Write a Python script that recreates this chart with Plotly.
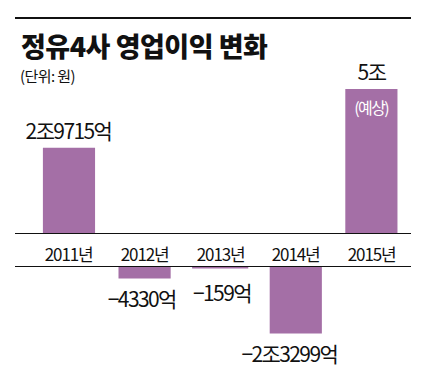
import plotly.graph_objects as go

years = ["2011년", "2012년", "2013년", "2014년", "2015년"]
profit_jo = [2.9715, -0.4330, -0.0159, -2.3299, 5.0]   # 단위: 조원
value_labels = ["2조9715억", "−4330억", "−159억", "−2조3299억", "5조"]
estimate_note = "(예상)"

title_text = "정유4사 영업이익 변화"
unit_text = "(단위: 원)"

W, H = 433, 389
PX_PER_UNIT = 29.0
BAR_COLOR = "#a46fa6"
CJK = "Noto Sans CJK KR, sans-serif"


def fy(px):
    return 1 - px / H


idx = list(range(len(years)))
pos_vals = [v if v > 0 else None for v in profit_jo]
neg_vals = [v if v < 0 else None for v in profit_jo]

fig = go.Figure()
fig.add_trace(go.Bar(x=idx, y=pos_vals, xaxis="x", yaxis="y",
                     marker=dict(color=BAR_COLOR, line=dict(width=0)),
                     width=0.69, hoverinfo="skip"))
fig.add_trace(go.Bar(x=idx, y=neg_vals, xaxis="x2", yaxis="y2",
                     marker=dict(color=BAR_COLOR,
                                 line=dict(color=BAR_COLOR,
                                           width=[0, 0, 4, 0, 0])),
                     width=0.69, hoverinfo="skip", cliponaxis=True))

top_base, top_end = 234, 80
bot_base, bot_end = 266, 389
xr = [-0.714, 4.524]
xdom = [15 / W, 411 / W]

axis_common = dict(showgrid=False, zeroline=False, showticklabels=False,
                   showline=False, ticks="", fixedrange=True)
fig.update_layout(
    width=W, height=H,
    margin=dict(l=0, r=0, t=0, b=0),
    paper_bgcolor="white", plot_bgcolor="white",
    showlegend=False, barmode="overlay",
    xaxis=dict(domain=xdom, range=xr, anchor="y", **axis_common),
    xaxis2=dict(domain=xdom, range=xr, anchor="y2", **axis_common),
    yaxis=dict(domain=[fy(top_base), fy(top_end)],
               range=[0, (top_base - top_end) / PX_PER_UNIT], **axis_common),
    yaxis2=dict(domain=[fy(bot_end), fy(bot_base)],
                range=[-(bot_end - bot_base) / PX_PER_UNIT, 0], **axis_common),
)

shapes = [
    dict(type="line", xref="paper", yref="paper", x0=15 / W, x1=411 / W,
         y0=fy(18), y1=fy(18), line=dict(color="#111111", width=2)),
    dict(type="line", xref="x domain", yref="y", x0=0, x1=1, y0=0, y1=0,
         line=dict(color="#111111", width=2)),
    dict(type="line", xref="x2 domain", yref="y2", x0=0, x1=1, y0=0, y1=0,
         line=dict(color="#111111", width=2)),
]
fig.update_layout(shapes=shapes)

ann = []
ann.append(dict(text=title_text, x=16 / W, y=fy(45),
                xref="paper", yref="paper", xanchor="left", yanchor="middle",
                showarrow=False,
                font=dict(family=CJK, size=27, color="#111111", weight=900)))
ann.append(dict(text=unit_text, x=16 / W, y=fy(75),
                xref="paper", yref="paper", xanchor="left", yanchor="middle",
                showarrow=False, font=dict(family=CJK, size=15, color="#111111")))

for i, y in enumerate(years):
    ann.append(dict(text=y, x=i, y=fy(253), xref="x", yref="paper",
                    xanchor="center", yanchor="middle", showarrow=False,
                    font=dict(family=CJK, size=17, color="#111111")))

neg_shift = {1: (-3, -19), 2: (2, -26), 3: (-6, -19)}
for i, v in enumerate(profit_jo):
    if v > 0:
        ann.append(dict(text=value_labels[i], x=i, y=v, xref="x", yref="y",
                        xanchor="center", yanchor="middle", yshift=18,
                        showarrow=False,
                        font=dict(family=CJK, size=21, color="#111111")))
    else:
        xs, ys = neg_shift[i]
        ann.append(dict(text=value_labels[i], x=i, y=v, xref="x2", yref="y2",
                        xanchor="center", yanchor="middle", yshift=ys, xshift=xs,
                        showarrow=False,
                        font=dict(family=CJK, size=21, color="#111111")))

ann.append(dict(text=estimate_note, x=4, y=profit_jo[4], xref="x", yref="y",
                xanchor="center", yanchor="middle", yshift=-18, showarrow=False,
                font=dict(family=CJK, size=16, color="white")))

fig.update_layout(annotations=ann)

post = """
document.body.style.margin = '0';
document.body.style.overflow = 'hidden';
var st = document.createElement('style');
st.textContent = '.annotation-text{letter-spacing:-1.6px;}' +
  '.annotation[data-index="0"] .annotation-text{letter-spacing:-0.5px;}' +
  '.annotation[data-index="1"] .annotation-text{letter-spacing:-0.6px;}' +
  '.annotation[data-index="2"] .annotation-text,' +
  '.annotation[data-index="3"] .annotation-text,' +
  '.annotation[data-index="4"] .annotation-text,' +
  '.annotation[data-index="5"] .annotation-text,' +
  '.annotation[data-index="6"] .annotation-text{letter-spacing:-1.1px;}';
document.head.appendChild(st);
"""
fig.write_html("out.html", post_script=post,
               config={"displayModeBar": False, "staticPlot": True})
